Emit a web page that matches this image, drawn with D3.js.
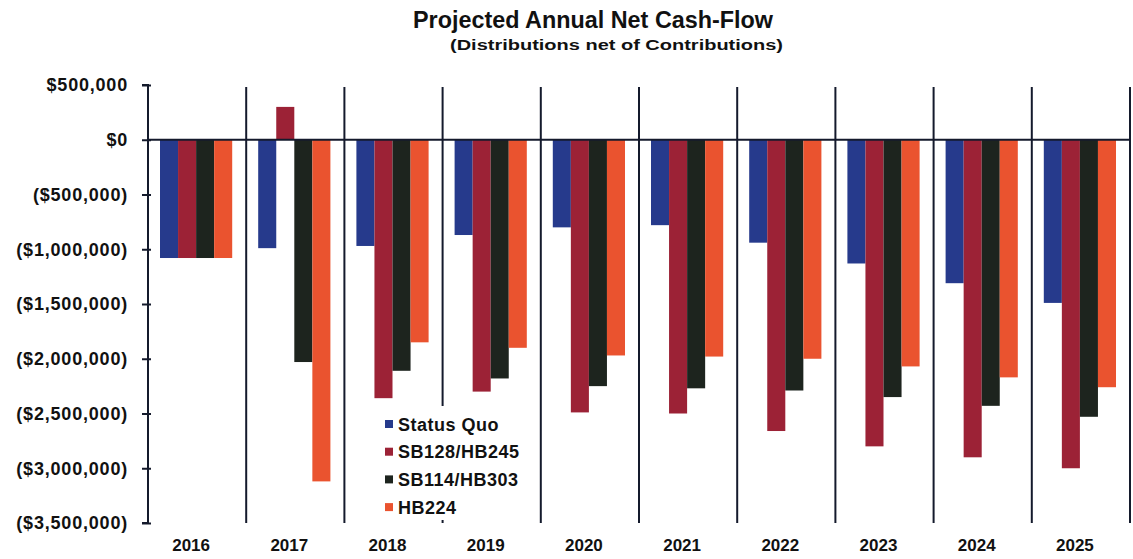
<!DOCTYPE html>
<html>
<head>
<meta charset="utf-8">
<script src="https://cdn.jsdelivr.net/npm/d3@7"></script>
<style>
  html, body { margin: 0; padding: 0; background: #ffffff; }
  svg { display: block; font-family: "Liberation Sans", Arial, sans-serif; }
</style>
</head>
<body>
<svg id="chart" width="1133" height="559"></svg>
<script>
const years = ["2016","2017","2018","2019","2020","2021","2022","2023","2024","2025"];
const seriesNames = ["Status Quo","SB128/HB245","SB114/HB303","HB224"];
const statusQuo = [-1080000,-990000,-970000,-870000,-800000,-780000,-940000,-1130000,-1310000,-1490000];
const sb128 = [-1080000,300000,-2360000,-2300000,-2490000,-2500000,-2660000,-2800000,-2900000,-3000000];
const sb114 = [-1080000,-2030000,-2110000,-2180000,-2250000,-2270000,-2290000,-2350000,-2430000,-2530000];
const hb224 = [-1080000,-3120000,-1850000,-1900000,-1970000,-1980000,-2000000,-2070000,-2170000,-2260000];
const yTicks = [500000,0,-500000,-1000000,-1500000,-2000000,-2500000,-3000000,-3500000];
const colors = ["#263a8c","#9c2236","#1d241e","#ea532f"];

(function () {
const seriesValues = [statusQuo, sb128, sb114, hb224];
const svg = d3.select("#chart");
const pLeft = 148, pRight = 1130, pTop = 85, pBottom = 523;
const lineColor = "#141a2c";

const y = d3.scaleLinear().domain([-3500000, 500000]).range([pBottom, pTop]);
const x0 = d3.scaleBand().domain(years).range([pLeft, pRight]).padding(0);
const x1 = d3.scaleBand().domain(seriesNames).range([12, x0.bandwidth() - 14]).padding(0);

const fmt = v => {
  const s = "$" + d3.format(",")(Math.abs(v));
  return v < 0 ? "(" + s + ")" : s;
};

// Title
svg.append("text").attr("x", 413).attr("y", 28)
  .attr("textLength", 360).attr("lengthAdjust", "spacingAndGlyphs")
  .attr("font-size", 23).attr("font-weight", "bold").attr("fill", "#111")
  .text("Projected Annual Net Cash-Flow");
svg.append("text").attr("x", 450).attr("y", 50)
  .attr("textLength", 333).attr("lengthAdjust", "spacingAndGlyphs")
  .attr("font-size", 14.5).attr("font-weight", "bold").attr("fill", "#111")
  .text("(Distributions net of Contributions)");

// Vertical category separators
const bounds = years.map(d => x0(d)).concat([pRight]);
svg.append("g").selectAll("line").data(bounds.slice(1)).join("line")
  .attr("x1", d => d).attr("x2", d => d)
  .attr("y1", pTop + 2).attr("y2", pBottom)
  .attr("stroke", lineColor).attr("stroke-width", 2);

// Bars
const data = years.map((yr, i) => ({ yr, vals: seriesNames.map((s, j) => ({ s, j, v: seriesValues[j][i] })) }));
svg.append("g").selectAll("g").data(data).join("g")
  .attr("transform", d => `translate(${x0(d.yr)},0)`)
  .selectAll("rect").data(d => d.vals).join("rect")
  .attr("x", d => x1(d.s))
  .attr("width", x1.bandwidth())
  .attr("y", d => y(Math.max(0, d.v)))
  .attr("height", d => Math.abs(y(d.v) - y(0)))
  .attr("fill", d => colors[d.j]);

// Zero line
svg.append("line").attr("x1", pLeft).attr("x2", pRight)
  .attr("y1", y(0)).attr("y2", y(0))
  .attr("stroke", lineColor).attr("stroke-width", 2);

// Y axis
const yAxis = d3.axisLeft(y).tickValues(yTicks).tickFormat(fmt).tickSize(6).tickPadding(14);
const gy = svg.append("g").attr("transform", `translate(${pLeft},0)`).call(yAxis);
gy.select(".domain").attr("stroke", lineColor).attr("stroke-width", 2).attr("d", `M-6,${pTop}H0V${pBottom}H-6`);
gy.selectAll(".tick line").attr("stroke", lineColor).attr("stroke-width", 2).attr("x2", -6).attr("x1", 3);
gy.selectAll(".tick text").attr("font-size", 18).attr("font-weight", "bold")
  .attr("fill", "#111").attr("font-family", "Liberation Sans, Arial, sans-serif")
  .attr("letter-spacing", 0.8);

// X axis labels
const xAxis = d3.axisBottom(x0).tickSize(0).tickPadding(16);
const gx = svg.append("g").attr("transform", `translate(-6,${pBottom})`).call(xAxis);
gx.select(".domain").remove();
gx.selectAll(".tick text").attr("font-size", 17).attr("font-weight", "bold")
  .attr("fill", "#111").attr("font-family", "Liberation Sans, Arial, sans-serif");

// Legend
const lg = svg.append("g");
lg.append("rect").attr("x", 372).attr("y", 406).attr("width", 160).attr("height", 114).attr("fill", "#fff");
const items = lg.selectAll("g").data(seriesNames).join("g")
  .attr("transform", (d, i) => `translate(385,${424 + i * 27.7})`);
items.append("rect").attr("x", 0).attr("y", -4).attr("width", 8).attr("height", 8)
  .attr("fill", (d, i) => colors[i]);
items.append("text").attr("x", 13).attr("y", 6.5)
  .attr("font-size", 18).attr("font-weight", "bold").attr("fill", "#111")
  .attr("letter-spacing", 0.5)
  .text(d => d);
})();
</script>
</body>
</html>
